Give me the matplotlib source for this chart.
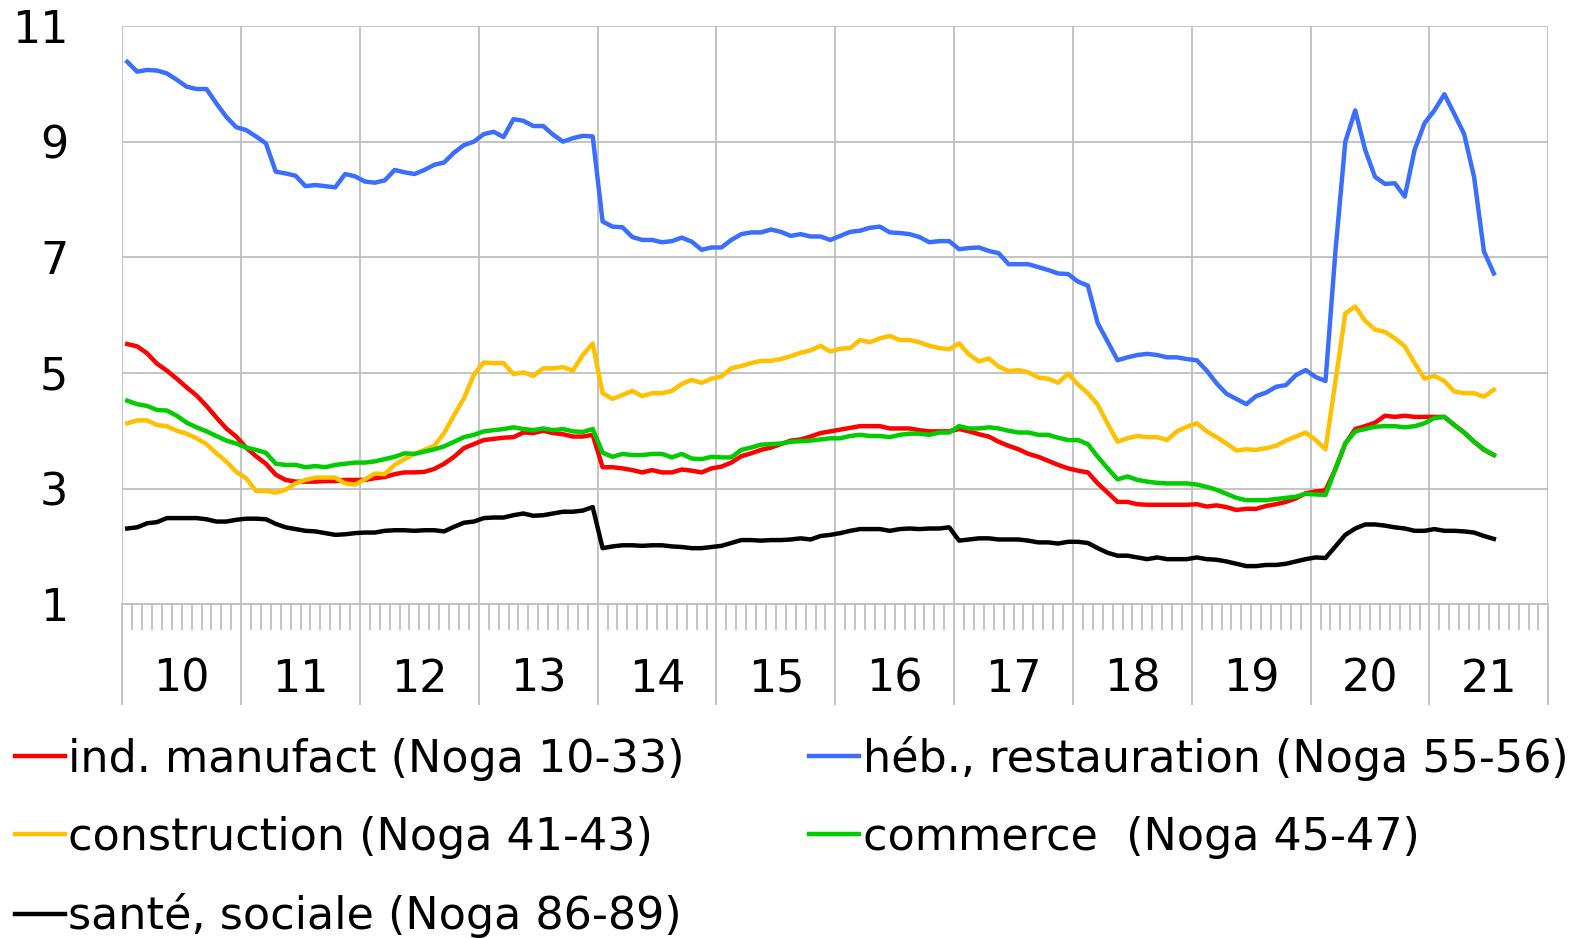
import matplotlib
matplotlib.use('Agg')
import matplotlib.pyplot as plt
import matplotlib.transforms as mtransforms
import numpy as np

plt.rcParams['font.family'] = ['DejaVu Sans']

# monthly data, Jan 2010 - Jul 2021
years = ['10', '11', '12', '13', '14', '15', '16', '17', '18', '19', '20', '21']

ind_manufact = [
    5.50, 5.46, 5.34, 5.16, 5.04, 4.90, 4.75, 4.61, 4.43, 4.23, 4.04, 3.90,
    3.71, 3.56, 3.43, 3.24, 3.15, 3.12, 3.12, 3.12, 3.13, 3.13, 3.15, 3.15,
    3.15, 3.18, 3.20, 3.25, 3.28, 3.28, 3.29, 3.34, 3.43, 3.55, 3.70, 3.77,
    3.84, 3.86, 3.88, 3.89, 3.97, 3.96, 4.00, 3.96, 3.94, 3.90, 3.90, 3.93,
    3.37, 3.37, 3.35, 3.32, 3.28, 3.32, 3.28, 3.28, 3.33, 3.31, 3.28, 3.35,
    3.38, 3.45, 3.56, 3.61, 3.67, 3.71, 3.77, 3.83, 3.85, 3.90, 3.96, 3.99,
    4.02, 4.05, 4.08, 4.08, 4.08, 4.04, 4.04, 4.04, 4.01, 3.99, 3.99, 3.99,
    4.03, 3.99, 3.94, 3.90, 3.81, 3.74, 3.68, 3.60, 3.55, 3.48, 3.41, 3.35,
    3.31, 3.28, 3.09, 2.93, 2.77, 2.77, 2.73, 2.72, 2.72, 2.72, 2.72, 2.72,
    2.73, 2.69, 2.71, 2.68, 2.63, 2.65, 2.65, 2.70, 2.73, 2.77, 2.83, 2.92,
    2.95, 2.97, 3.34, 3.78, 4.03, 4.08, 4.14, 4.26, 4.24, 4.26, 4.24, 4.24,
    4.24, 4.24, 4.10, 3.97, 3.81, 3.67, 3.58]

heb_restauration = [
    10.38, 10.21, 10.24, 10.23, 10.18, 10.07, 9.95, 9.91, 9.91, 9.66, 9.43, 9.25,
    9.20, 9.09, 8.97, 8.48, 8.45, 8.41, 8.23, 8.25, 8.23, 8.21, 8.44, 8.40,
    8.31, 8.29, 8.33, 8.51, 8.47, 8.44, 8.51, 8.60, 8.64, 8.81, 8.94, 9.00,
    9.13, 9.17, 9.08, 9.39, 9.36, 9.27, 9.27, 9.12, 9.00, 9.06, 9.10, 9.09,
    7.62, 7.53, 7.52, 7.35, 7.30, 7.30, 7.26, 7.28, 7.34, 7.27, 7.13, 7.17,
    7.17, 7.30, 7.40, 7.43, 7.43, 7.48, 7.44, 7.37, 7.40, 7.36, 7.36, 7.30,
    7.37, 7.44, 7.46, 7.51, 7.53, 7.43, 7.42, 7.40, 7.35, 7.26, 7.28, 7.28,
    7.14, 7.16, 7.17, 7.11, 7.07, 6.88, 6.88, 6.88, 6.83, 6.78, 6.72, 6.71,
    6.58, 6.51, 5.86, 5.54, 5.22, 5.27, 5.31, 5.33, 5.31, 5.27, 5.27, 5.24,
    5.22, 5.04, 4.82, 4.64, 4.55, 4.46, 4.60, 4.66, 4.76, 4.79, 4.96, 5.05,
    4.93, 4.86, 7.10, 9.00, 9.54, 8.86, 8.39, 8.27, 8.28, 8.05, 8.86, 9.32,
    9.54, 9.82, 9.48, 9.13, 8.39, 7.10, 6.72]

construction = [
    4.13, 4.18, 4.18, 4.10, 4.08, 4.00, 3.95, 3.87, 3.77, 3.61, 3.47, 3.29,
    3.18, 2.96, 2.96, 2.93, 2.98, 3.09, 3.15, 3.19, 3.19, 3.19, 3.09, 3.07,
    3.16, 3.26, 3.25, 3.41, 3.51, 3.60, 3.67, 3.74, 3.96, 4.27, 4.56, 4.97,
    5.18, 5.17, 5.17, 4.98, 5.01, 4.95, 5.08, 5.08, 5.10, 5.04, 5.31, 5.51,
    4.65, 4.55, 4.62, 4.69, 4.60, 4.65, 4.65, 4.69, 4.81, 4.88, 4.83, 4.90,
    4.94, 5.08, 5.12, 5.17, 5.21, 5.21, 5.24, 5.29, 5.35, 5.39, 5.47, 5.37,
    5.42, 5.43, 5.57, 5.53, 5.60, 5.64, 5.57, 5.57, 5.53, 5.47, 5.43, 5.41,
    5.51, 5.32, 5.20, 5.25, 5.11, 5.03, 5.05, 5.01, 4.92, 4.90, 4.83, 4.99,
    4.80, 4.65, 4.45, 4.12, 3.81, 3.87, 3.91, 3.89, 3.89, 3.84, 3.99, 4.07,
    4.13, 3.99, 3.89, 3.78, 3.66, 3.68, 3.67, 3.70, 3.74, 3.83, 3.90, 3.97,
    3.84, 3.68, 4.85, 6.03, 6.15, 5.90, 5.75, 5.71, 5.60, 5.46, 5.17, 4.90,
    4.95, 4.86, 4.68, 4.65, 4.65, 4.59, 4.71]

commerce = [
    4.52, 4.46, 4.43, 4.36, 4.35, 4.26, 4.14, 4.06, 3.99, 3.91, 3.83, 3.78,
    3.71, 3.67, 3.62, 3.43, 3.41, 3.41, 3.37, 3.39, 3.37, 3.41, 3.43, 3.45,
    3.45, 3.47, 3.51, 3.55, 3.61, 3.60, 3.64, 3.68, 3.73, 3.81, 3.89, 3.93,
    3.99, 4.01, 4.03, 4.06, 4.03, 4.01, 4.04, 4.01, 4.03, 3.99, 3.98, 4.03,
    3.62, 3.55, 3.60, 3.58, 3.58, 3.60, 3.60, 3.54, 3.60, 3.52, 3.51, 3.55,
    3.54, 3.54, 3.67, 3.71, 3.76, 3.77, 3.78, 3.81, 3.82, 3.83, 3.85, 3.87,
    3.87, 3.91, 3.93, 3.91, 3.91, 3.89, 3.93, 3.95, 3.95, 3.93, 3.97, 3.97,
    4.08, 4.04, 4.04, 4.06, 4.04, 4.00, 3.97, 3.97, 3.93, 3.93, 3.88, 3.84,
    3.84, 3.77, 3.55, 3.35, 3.16, 3.21, 3.15, 3.12, 3.10, 3.09, 3.09, 3.09,
    3.07, 3.03, 2.98, 2.91, 2.84, 2.80, 2.80, 2.80, 2.82, 2.84, 2.86, 2.91,
    2.90, 2.89, 3.34, 3.78, 3.99, 4.03, 4.07, 4.08, 4.08, 4.06, 4.08, 4.13,
    4.22, 4.24, 4.10, 3.97, 3.81, 3.68, 3.58]

sante_sociale = [
    2.31, 2.33, 2.40, 2.42, 2.49, 2.49, 2.49, 2.49, 2.47, 2.43, 2.43, 2.46,
    2.48, 2.48, 2.47, 2.39, 2.33, 2.30, 2.27, 2.26, 2.23, 2.20, 2.21, 2.23,
    2.24, 2.24, 2.27, 2.28, 2.28, 2.27, 2.28, 2.28, 2.26, 2.34, 2.41, 2.43,
    2.49, 2.50, 2.50, 2.54, 2.57, 2.53, 2.54, 2.57, 2.60, 2.60, 2.62, 2.68,
    1.97, 2.00, 2.02, 2.02, 2.01, 2.02, 2.02, 2.00, 1.99, 1.97, 1.97, 1.99,
    2.01, 2.06, 2.11, 2.11, 2.10, 2.11, 2.11, 2.12, 2.14, 2.12, 2.18, 2.20,
    2.23, 2.27, 2.30, 2.30, 2.30, 2.27, 2.30, 2.31, 2.30, 2.31, 2.31, 2.33,
    2.10, 2.12, 2.14, 2.14, 2.12, 2.12, 2.12, 2.10, 2.07, 2.07, 2.05, 2.08,
    2.08, 2.06, 1.97, 1.89, 1.84, 1.84, 1.81, 1.78, 1.81, 1.78, 1.78, 1.78,
    1.81, 1.78, 1.77, 1.74, 1.70, 1.66, 1.66, 1.68, 1.68, 1.70, 1.74, 1.78,
    1.81, 1.80, 2.00, 2.20, 2.31, 2.38, 2.38, 2.36, 2.33, 2.31, 2.27, 2.27,
    2.30, 2.27, 2.27, 2.26, 2.24, 2.18, 2.13]

labels = ['ind. manufact (Noga 10-33)', 'héb., restauration (Noga 55-56)',
          'construction (Noga 41-43)', 'commerce  (Noga 45-47)',
          'santé, sociale (Noga 86-89)']

RED = '#FF0000'
BLUE = '#3A6EFF'
YELLOW = '#FFC000'
GREEN = '#00CC00'
BLACK = '#000000'
GRID = '#BFBFBF'
FS = 32

fig = plt.figure(figsize=(15.7, 9.38), dpi=100)
ax = fig.add_axes([0.0779, 0.3558, 0.9083, 0.6165])

x = np.arange(len(ind_manufact)) + 0.5
lw = 3.2
l_red, = ax.plot(x, ind_manufact, color=RED, lw=lw, label=labels[0])
l_blue, = ax.plot(x, heb_restauration, color=BLUE, lw=lw, label=labels[1])
l_yel, = ax.plot(x, construction, color=YELLOW, lw=lw, label=labels[2])
l_grn, = ax.plot(x, commerce, color=GREEN, lw=lw, label=labels[3])
l_blk, = ax.plot(x, sante_sociale, color=BLACK, lw=lw, label=labels[4])

nyears = len(years)
ax.set_xlim(0, 12 * nyears)
ax.set_ylim(1, 11)
ax.set_yticks([1, 3, 5, 7, 9, 11])
ax.tick_params(axis='y', length=0, pad=39, labelsize=FS)

# year separators (major) and month ticks (minor)
ax.set_xticks(np.arange(0, 12 * nyears + 1, 12))
ax.set_xticklabels([])
ax.set_xticks(np.arange(0, 12 * nyears + 1, 1), minor=True)
ax.tick_params(axis='x', which='major', length=73, width=1.3, color=GRID)
ax.tick_params(axis='x', which='minor', length=19, width=1.3, color=GRID)

ax.grid(True, which='major', color=GRID, lw=1.3)
ax.set_axisbelow(True)
for s in ['top', 'right', 'left']:
    ax.spines[s].set_visible(False)
ax.spines['bottom'].set_color(GRID)
ax.spines['bottom'].set_linewidth(1.3)

trans = mtransforms.blended_transform_factory(ax.transData, ax.transAxes)
for k, yr in enumerate(years):
    ax.text(12 * k + 6, -0.13, yr, transform=trans, ha='center', va='center',
            fontsize=FS)

leg = fig.legend([l_red, l_yel, l_blk, l_blue, l_grn],
                 [labels[0], labels[2], labels[4], labels[1], labels[3]],
                 ncol=2, loc='upper left', bbox_to_anchor=(0.0095, 0.2154),
                 frameon=False, fontsize=FS, handlelength=1.13,
                 handletextpad=0.07, columnspacing=2.8, labelspacing=0.78,
                 borderaxespad=0, borderpad=0)

fig.savefig('out.png', dpi=100, facecolor='white')
